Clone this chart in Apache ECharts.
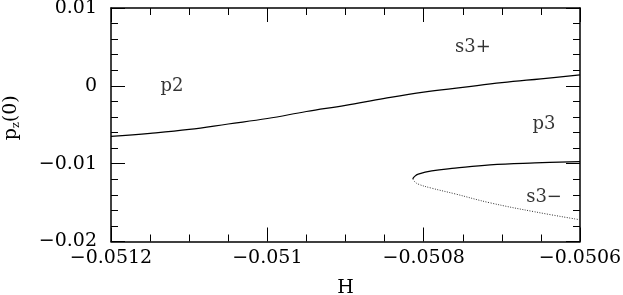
<!DOCTYPE html>
<html>
<head>
<meta charset="utf-8">
<script src="https://cdn.jsdelivr.net/npm/echarts@6/dist/echarts.min.js"></script>
<style>html,body{margin:0;padding:0;background:#fff}#c{width:623px;height:295px}</style>
</head>
<body>
<div id="c"></div>
<script>
// Main branch (solid)
var mainH = [-0.0512, -0.05115, -0.0511, -0.05105, -0.0510, -0.05095, -0.0509, -0.05085, -0.0508, -0.05075, -0.0507, -0.05065, -0.0506];
var mainP = [-0.0065, -0.0061, -0.0056, -0.0049, -0.0042, -0.0033, -0.0025, -0.0016, -0.0008, -0.0002, 0.0004, 0.0009, 0.0014];
// s3 upper branch (solid), starting at the turning point
var upperH = [-0.0508140, -0.0508115, -0.0508069, -0.0507897, -0.0507599, -0.0507151, -0.0506576, -0.0506];
var upperP = [-0.01195, -0.01163, -0.01135, -0.01092, -0.01058, -0.01015, -0.00990, -0.00973];
// s3 lower branch (dotted), starting at the turning point
var lowerH = [-0.0508140, -0.0508119, -0.0508069, -0.0507897, -0.0507599, -0.0507151, -0.0506576, -0.0506];
var lowerP = [-0.01195, -0.01227, -0.01263, -0.01315, -0.01388, -0.01503, -0.01619, -0.01721];
// Region labels
var labelText = ['p2', 's3+', 'p3', 's3\u2212'];
var labelH = [-0.051122, -0.050737, -0.050646, -0.050646];
var labelP = [-0.0001, 0.0049, -0.0049, -0.0143];

var xTicks = { min: -0.0512, max: -0.0506, interval: 0.0002 };
var yTicks = { min: -0.02, max: 0.01, interval: 0.01 };

function zip(a, b) { return a.map(function (v, i) { return [v, b[i]]; }); }
function fmt(v, d) {
  var s = (+v.toFixed(d)).toString();
  if (Math.abs(+v) < 1e-12) s = '0';
  return s.replace('-', '\u2212');
}
var FONT = 'DejaVu Serif';
var axisCommon = {
  axisLine: { show: true, onZero: false, lineStyle: { color: '#000', width: 1.5 } },
  axisTick: { show: true, inside: true, length: 14, lineStyle: { color: '#000', width: 1 } },
  minorTick: { show: true, splitNumber: 4, length: 7, lineStyle: { color: '#000', width: 1 } },
  splitLine: { show: false },
  minorSplitLine: { show: false }
};
function mk(base, extra) { return Object.assign({}, JSON.parse(JSON.stringify(base)), extra); }

var chart = echarts.init(document.getElementById('c'), null, { renderer: 'canvas' });
chart.setOption({
  animation: false,
  backgroundColor: '#fff',
  grid: { left: 111, right: 43, top: 8, bottom: 53.5, containLabel: false, outerBoundsMode: 'none' },
  xAxis: [
    mk(axisCommon, {
      type: 'value', position: 'bottom', min: xTicks.min, max: xTicks.max, interval: xTicks.interval,
      name: 'H', nameLocation: 'middle', nameGap: 37,
      nameTextStyle: { fontFamily: FONT, fontSize: 19, color: '#000' },
      axisLabel: { margin: 7, fontFamily: FONT, fontSize: 19, color: '#000', formatter: function (v) { return fmt(v, 4); } }
    }),
    mk(axisCommon, {
      type: 'value', position: 'top', min: xTicks.min, max: xTicks.max, interval: xTicks.interval,
      axisLabel: { show: false }
    })
  ],
  yAxis: [
    mk(axisCommon, {
      type: 'value', position: 'left', min: yTicks.min, max: yTicks.max, interval: yTicks.interval,
      minorTick: { show: true, splitNumber: 5, length: 7, lineStyle: { color: '#000', width: 1 } },
      name: '{a|p}{s|z}{a|(0)}', nameLocation: 'middle', nameGap: 89, nameRotate: 90,
      nameTextStyle: { padding: [0, 0, 0, 14], rich: { a: { fontFamily: FONT, fontSize: 19, color: '#000' }, s: { fontFamily: FONT, fontSize: 11, color: '#000', verticalAlign: 'bottom', padding: [10, 0, 0, 0] } } },
      axisLabel: { margin: 14, fontFamily: FONT, fontSize: 19, color: '#000', formatter: function (v) { return fmt(v, 3); } }
    }),
    mk(axisCommon, {
      type: 'value', position: 'right', min: yTicks.min, max: yTicks.max, interval: yTicks.interval,
      minorTick: { show: true, splitNumber: 5, length: 7, lineStyle: { color: '#000', width: 1 } },
      axisLabel: { show: false }
    })
  ],
  series: [
    { type: 'line', data: zip(mainH, mainP), smooth: 0.4, showSymbol: false, lineStyle: { color: '#000', width: 1.2 } },
    { type: 'line', data: zip(upperH, upperP), smooth: 0.4, showSymbol: false, lineStyle: { color: '#000', width: 1.2 } },
    { type: 'line', data: zip(lowerH, lowerP), smooth: 0.4, showSymbol: false, lineStyle: { color: '#333', width: 1, type: [1, 1.5] } },
    {
      type: 'scatter', symbolSize: 0, silent: true,
      data: labelText.map(function (t, i) { return { value: [labelH[i], labelP[i]], name: t }; }),
      label: { show: true, position: 'inside', formatter: function (p) { return p.name; }, fontFamily: FONT, fontSize: 18, color: '#000' }
    }
  ]
});
</script>
</body>
</html>
